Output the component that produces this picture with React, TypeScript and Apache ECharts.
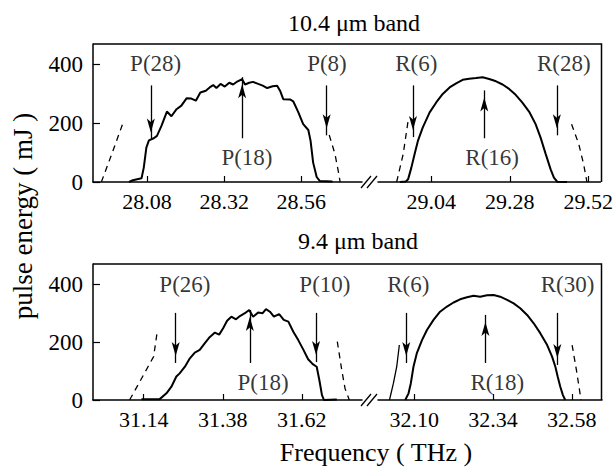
import React, { useEffect, useRef } from 'react';
import * as echarts from 'echarts';

const FONT = "'Liberation Serif', 'Times New Roman', Times, serif";

// tick labels
const energyTicks = [0, 200, 400];
const topLeftTicks = [28.08, 28.32, 28.56];
const topRightTicks = [29.04, 29.28, 29.52];
const bottomLeftTicks = [31.14, 31.38, 31.62];
const bottomRightTicks = [32.1, 32.34, 32.58];

// 10.4 um band, P branch (solid) and neighbours (dashed)
const band104P: [number, number][] = [
  [28.024, 0], [28.036, 6], [28.063, 13], [28.07, 49], [28.078, 117], [28.086, 142], [28.101, 149],
  [28.111, 157], [28.125, 191], [28.142, 240], [28.156, 224], [28.172, 248], [28.187, 260],
  [28.203, 285], [28.218, 284], [28.232, 277], [28.246, 305], [28.263, 311], [28.275, 322],
  [28.286, 330], [28.296, 320], [28.309, 334], [28.322, 325], [28.336, 338], [28.348, 332],
  [28.362, 343], [28.376, 350], [28.385, 332], [28.398, 338], [28.41, 341], [28.426, 334],
  [28.44, 328], [28.454, 320], [28.471, 326], [28.485, 328], [28.494, 311], [28.504, 282],
  [28.525, 281], [28.535, 275], [28.551, 237], [28.566, 197], [28.582, 177], [28.589, 140],
  [28.597, 66], [28.608, 17], [28.618, 3], [28.655, 2], [28.657, 0],
];
const band104PLow: [number, number][] = [[27.938, 0], [27.972, 100], [28.005, 200]];
const band104PHigh: [number, number][] = [[28.647, 160], [28.665, 95], [28.675, 38], [28.681, 0]];

// 10.4 um band, R branch
const band104R: [number, number][] = [
  [28.944, 0], [28.962, 2], [28.969, 9], [28.979, 49], [28.989, 95], [28.999, 140], [29.014, 186],
  [29.035, 237], [29.055, 271], [29.075, 300], [29.096, 322], [29.116, 336], [29.136, 348],
  [29.156, 352], [29.177, 354], [29.197, 357], [29.217, 351], [29.238, 343], [29.258, 332],
  [29.278, 317], [29.298, 297], [29.318, 271], [29.339, 240], [29.359, 197], [29.374, 152],
  [29.39, 95], [29.405, 43], [29.415, 15], [29.425, 1], [29.455, 0],
];
const band104RLow: [number, number][] = [[28.934, 0], [28.954, 95], [28.969, 208], [28.975, 218]];
const band104RHigh: [number, number][] = [[29.469, 197], [29.491, 129], [29.506, 60], [29.516, 0]];

// 9.4 um band, P branch
const band94P: [number, number][] = [
  [31.133, 3], [31.1885, 3], [31.209, 23], [31.224, 46], [31.239, 81], [31.249, 92], [31.265, 115],
  [31.28, 144], [31.295, 164], [31.31, 173], [31.325, 196], [31.34, 217], [31.356, 233],
  [31.369, 226], [31.381, 248], [31.393, 274], [31.406, 288], [31.42, 279], [31.432, 290],
  [31.447, 300], [31.46, 311], [31.472, 288], [31.487, 302], [31.501, 300], [31.511, 314],
  [31.523, 305], [31.535, 288], [31.551, 297], [31.565, 277], [31.579, 271], [31.594, 236],
  [31.609, 207], [31.624, 175], [31.639, 141], [31.653, 124], [31.665, 115], [31.673, 69],
  [31.681, 17], [31.687, 0], [31.726, 2],
];
const band94PLow: [number, number][] = [[31.097, 0], [31.128, 63], [31.153, 115], [31.17, 150], [31.181, 236]];
const band94PHigh: [number, number][] = [[31.7275, 202], [31.741, 104], [31.751, 40], [31.764, 0]];

// 9.4 um band, R branch
const band94R: [number, number][] = [
  [32.073, 0], [32.083, 23], [32.09, 58], [32.098, 115], [32.108, 161], [32.124, 207], [32.139, 242],
  [32.159, 277], [32.179, 305], [32.2, 323], [32.22, 337], [32.24, 348], [32.261, 355],
  [32.281, 360], [32.301, 357], [32.322, 362], [32.342, 363], [32.362, 357], [32.383, 346],
  [32.403, 334], [32.423, 317], [32.444, 294], [32.464, 265], [32.484, 231], [32.505, 190],
  [32.52, 150], [32.53, 115], [32.537, 81], [32.545, 46], [32.553, 17], [32.56, 0],
];
const band94RLow: [number, number][] = [[32.025, 0], [32.037, 58], [32.047, 115], [32.055, 190]];
const band94RHigh: [number, number][] = [[32.581, 190], [32.594, 104], [32.602, 46], [32.608, 0]];

// arrows: x, from (tail), to (tip)
const band104PArrows = [
  { x: 28.092, from: 329, to: 145 },
  { x: 28.376, from: 149, to: 357 },
  { x: 28.639, from: 329, to: 159 },
];
const band104RArrows = [
  { x: 28.984, from: 329, to: 153 },
  { x: 29.202, from: 149, to: 312 },
  { x: 29.424, from: 329, to: 159 },
];
const band94PArrows = [
  { x: 31.237, from: 301, to: 128 },
  { x: 31.462, from: 128, to: 311 },
  { x: 31.663, from: 301, to: 131 },
];
const band94RArrows = [
  { x: 32.076, from: 301, to: 128 },
  { x: 32.317, from: 128, to: 294 },
  { x: 32.536, from: 301, to: 121 },
];

// line labels
const band104PLabels = [
  { name: 'P(28)', x: 28.107, y: 405 },
  { name: 'P(18)', x: 28.391, y: 84 },
  { name: 'P(8)', x: 28.64, y: 405 },
];
const band104RLabels = [
  { name: 'R(6)', x: 28.994, y: 403 },
  { name: 'R(16)', x: 29.226, y: 84 },
  { name: 'R(28)', x: 29.445, y: 405 },
];
const band94PLabels = [
  { name: 'P(26)', x: 31.265, y: 398 },
  { name: 'P(18)', x: 31.502, y: 59 },
  { name: 'P(10)', x: 31.69, y: 398 },
];
const band94RLabels = [
  { name: 'R(6)', x: 32.082, y: 398 },
  { name: 'R(18)', x: 32.353, y: 59 },
  { name: 'R(30)', x: 32.567, y: 398 },
];

const panels = [
  { grid: { left: 93, top: 44, width: 269, height: 138 }, min: 27.912, max: 28.749, ticks: topLeftTicks, showY: true,
    solid: band104P, dashed: [band104PLow, band104PHigh], thin: [] as [number, number][][], arrows: band104PArrows, labels: band104PLabels },
  { grid: { left: 378, top: 44, width: 224, height: 138 }, min: 28.877, max: 29.557, ticks: topRightTicks, showY: false,
    solid: band104R, dashed: [band104RLow, band104RHigh], thin: [] as [number, number][][], arrows: band104RArrows, labels: band104RLabels },
  { grid: { left: 93, top: 264, width: 269, height: 136 }, min: 30.986, max: 31.8025, ticks: bottomLeftTicks, showY: true,
    solid: band94P, dashed: [band94PLow, band94PHigh], thin: [] as [number, number][][], arrows: band94PArrows, labels: band94PLabels },
  { grid: { left: 378, top: 264, width: 224, height: 136 }, min: 31.99, max: 32.672, ticks: bottomRightTicks, showY: false,
    solid: band94R, dashed: [band94RHigh], thin: [band94RLow], arrows: band94RArrows, labels: band94RLabels },
];

export default function App() {
  const ref = useRef<HTMLDivElement>(null);
  useEffect(() => {
    if (!ref.current) return;
    const chart = echarts.init(ref.current, null, { renderer: 'svg' });
    const black = '#000';
    const series: any[] = [];
    panels.forEach((p, i) => {
      series.push({
        type: 'line', xAxisIndex: i, yAxisIndex: i, data: p.solid, symbol: 'none', silent: true,
        lineStyle: { color: black, width: 2 },
        markLine: {
          silent: true, animation: false,
          symbol: ['none', 'arrow'], symbolSize: [6, 14], symbolOffset: [[0, 0], [0, '50%']],
          lineStyle: { color: black, width: 1.3, type: 'solid' },
          itemStyle: { color: black },
          label: { show: false },
          emphasis: { disabled: true },
          data: p.arrows.map((a) => [{ coord: [a.x, a.from] }, { coord: [a.x, a.to] }]),
        },
      });
      p.dashed.forEach((d) => {
        series.push({
          type: 'line', xAxisIndex: i, yAxisIndex: i, data: d, symbol: 'none', silent: true,
          lineStyle: { color: black, width: 1.3, type: [6, 5] },
        });
      });
      p.thin.forEach((d) => {
        series.push({
          type: 'line', xAxisIndex: i, yAxisIndex: i, data: d, symbol: 'none', silent: true,
          lineStyle: { color: black, width: 1.3 },
        });
      });
      series.push({
        type: 'scatter', xAxisIndex: i, yAxisIndex: i, symbolSize: 0, silent: true,
        itemStyle: { color: 'rgba(0,0,0,0)' },
        data: p.labels.map((l) => ({ name: l.name, value: [l.x, l.y] })),
        label: {
          show: true, position: 'inside', formatter: '{b}', color: black,
          fontFamily: FONT, fontSize: 23,
        },
      });
    });

    const breakMarks = (y: number) => [
      { type: 'line', shape: { x1: 361, y1: y + 6, x2: 371, y2: y - 6 }, style: { stroke: black, lineWidth: 1.3 } },
      { type: 'line', shape: { x1: 367, y1: y + 6, x2: 377, y2: y - 6 }, style: { stroke: black, lineWidth: 1.3 } },
    ];

    chart.setOption({
      animation: false,
      backgroundColor: '#fff',
      textStyle: { fontFamily: FONT },
      grid: panels.map((p) => ({ ...p.grid, containLabel: false })),
      xAxis: panels.map((p, i) => ({
        type: 'value', gridIndex: i, min: p.min, max: p.max,
        axisLine: { show: true, onZero: false, lineStyle: { color: black, width: 1.5 } },
        axisTick: { show: true, inside: true, length: 6, customValues: p.ticks, lineStyle: { color: black, width: 1.2 } },
        axisLabel: {
          customValues: p.ticks, formatter: (v: number) => v.toFixed(2), color: black,
          fontFamily: FONT, fontSize: 22, margin: 8,
        },
        splitLine: { show: false },
      })),
      yAxis: panels.map((p, i) => ({
        type: 'value', gridIndex: i, min: 0, max: 470, show: p.showY,
        axisLine: { show: true, lineStyle: { color: black, width: 1.5 } },
        axisTick: { show: true, inside: true, length: 7, customValues: energyTicks, lineStyle: { color: black, width: 1.2 } },
        axisLabel: { customValues: energyTicks, color: black, fontFamily: FONT, fontSize: 23, margin: 10 },
        splitLine: { show: false },
      })),
      series,
      graphic: [
        { type: 'polyline', shape: { points: [[93, 44], [601.5, 44], [601.5, 182]] }, style: { stroke: black, lineWidth: 1.5, fill: 'none' } },
        { type: 'polyline', shape: { points: [[93, 264], [601.5, 264], [601.5, 400]] }, style: { stroke: black, lineWidth: 1.5, fill: 'none' } },
        ...breakMarks(182),
        ...breakMarks(400),
        { type: 'text', x: 354, y: 23, style: { text: '10.4 μm band', fontFamily: FONT, fontSize: 24, fill: black, align: 'center', verticalAlign: 'middle' } },
        { type: 'text', x: 358, y: 241, style: { text: '9.4 μm band', fontFamily: FONT, fontSize: 24, fill: black, align: 'center', verticalAlign: 'middle' } },
        { type: 'text', x: 376, y: 452, style: { text: 'Frequency ( THz )', fontFamily: FONT, fontSize: 26, fill: black, align: 'center', verticalAlign: 'middle' } },
        { type: 'text', x: 23, y: 216, rotation: Math.PI / 2, style: { text: 'pulse energy ( mJ )', fontFamily: FONT, fontSize: 27, fill: black, align: 'center', verticalAlign: 'middle' } },
      ],
    });
    return () => chart.dispose();
  }, []);
  return <div ref={ref} style={{ position: 'fixed', left: 0, top: 0, width: 616, height: 468, background: '#fff' }} />;
}
